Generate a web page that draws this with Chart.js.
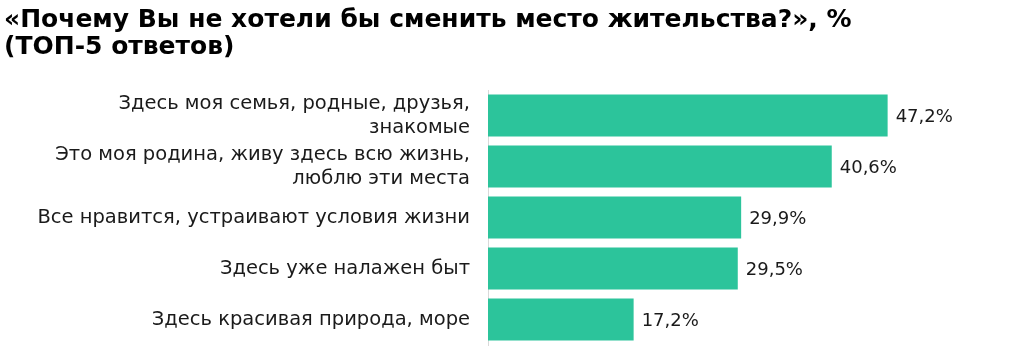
<!DOCTYPE html>
<html>
<head>
<meta charset="utf-8">
<script src="https://cdn.jsdelivr.net/npm/chart.js@4"></script>
<style>
  html, body { margin: 0; padding: 0; background: #fff; overflow: hidden; }
  canvas { display: block; }
</style>
</head>
<body>
<canvas id="answersChart" width="1024" height="348"></canvas>
<script>
// Chart data
const titleLines = ['«Почему Вы не хотели бы сменить место жительства?», %', '(ТОП-5 ответов)'];
const answers = [
    ['Здесь моя семья, родные, друзья,', 'знакомые'],
    ['Это моя родина, живу здесь всю жизнь,', 'люблю эти места'],
    'Все нравится, устраивают условия жизни',
    'Здесь уже налажен быт',
    'Здесь красивая природа, море'
];
const shares = [47.2, 40.6, 29.9, 29.5, 17.2];

const FONT = 'DejaVu Sans';

// Draw "47,2%" style labels after each bar
const valueLabels = {
    id: 'valueLabels',
    afterDatasetsDraw(chart) {
        const ctx = chart.ctx;
        const meta = chart.getDatasetMeta(0);
        ctx.save();
        ctx.font = '18px "' + FONT + '"';
        ctx.fillStyle = '#1a1a1a';
        ctx.textAlign = 'left';
        ctx.textBaseline = 'middle';
        meta.data.forEach((bar, i) => {
            const text = shares[i].toFixed(1).replace('.', ',') + '%';
            ctx.fillText(text, bar.x + 8, bar.y + 2);
        });
        ctx.restore();
    }
};

let ctx = document.getElementById('answersChart').getContext('2d');
let answersChart = new Chart(ctx, {
    type: 'bar',
    data: {
        labels: answers,
        datasets: [{
            data: shares,
            backgroundColor: '#2cc49b',
            borderWidth: 0,
            barPercentage: 0.82,
            categoryPercentage: 1
        }]
    },
    options: {
        indexAxis: 'y',
        responsive: false,
        animation: false,
        layout: { padding: { left: 4, right: 28, top: 0, bottom: 3 } },
        plugins: {
            legend: { display: false },
            tooltip: { enabled: false },
            title: {
                display: true,
                text: titleLines,
                align: 'start',
                color: '#000',
                font: { family: FONT, size: 25, weight: 'bold', lineHeight: 1.08 },
                padding: { top: 7, bottom: 29 }
            }
        },
        scales: {
            x: { display: false, min: 0, max: 60 },
            y: {
                afterFit: s => {
                    s.width = 484;
                    s.paddingTop = 0;
                    s.paddingBottom = 0;
                },
                grid: { display: false, drawTicks: false },
                border: { display: true, color: '#d9d9d9', width: 1 },
                ticks: {
                    padding: 18,
                    color: '#1a1a1a',
                    font: { family: FONT, size: 19.5, lineHeight: 1.23 }
                }
            }
        }
    },
    plugins: [valueLabels]
});
</script>
</body>
</html>
